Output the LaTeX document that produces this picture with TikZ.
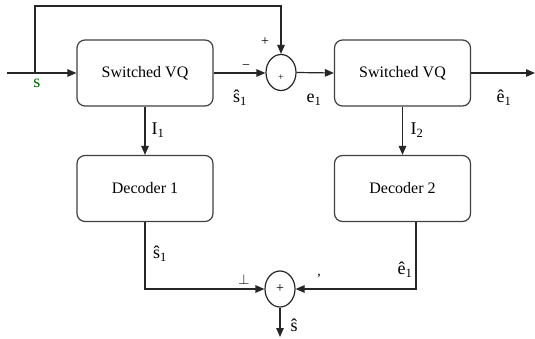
\documentclass[tikz,border=0pt]{standalone}
\usepackage{fontspec}
\setmainfont{Liberation Serif}
\usetikzlibrary{arrows.meta,shapes.geometric}
\begin{document}
\begin{tikzpicture}[x=1pt,y=-1pt,
  line/.style={draw=black!85, line width=1.2pt},
  arr/.style={line, -{Triangle[length=9pt,width=7.5pt]}},
  blk/.style={draw=black!75, line width=1.2pt, rounded corners=8pt, minimum width=136pt, minimum height=66pt, inner sep=0pt, font=\fontsize{16}{19}\selectfont},
  sum/.style={draw=black!85, line width=1.2pt, ellipse, minimum width=30pt, minimum height=36pt, inner sep=0pt},
  lbl/.style={font=\fontsize{18}{20}\selectfont, inner sep=0pt},
  sm/.style={font=\fontsize{14}{15}\selectfont, inner sep=0pt}]
\useasboundingbox (0,0) rectangle (535,339);
\node[blk] (vq1) at (145,73) {Switched VQ};
\node[blk] (vq2) at (402.5,73) {Switched VQ};
\node[blk] (d1) at (145,188.5) {Decoder 1};
\node[blk] (d2) at (402.5,188.5) {Decoder 2};
\node[sum] (c1) at (281,72.5) {};
\node[sm, font=\fontsize{10}{11}\selectfont] (p1) at (281,78) {+};
\node[sum, font=\fontsize{14}{15}\selectfont] (c2) at (280,289) {+};
\coordinate (in) at (7,73);
\coordinate (br) at (35,73);
\coordinate (top) at (281,6);
\coordinate (out) at (535,73);
\coordinate (sout) at (280,337);
\coordinate (d2o) at (416,222);
\draw[arr] (in) -- (vq1.west);
\draw[arr] (br) |- (top) -- (c1.north);
\draw[arr] (vq1.east) -- (vq1.east -| c1.west);
\draw[arr] (c1.east) -- (vq2.west);
\draw[arr] (vq2.east) -- (out);
\draw[arr] (vq1.south) -- (d1.north);
\draw[arr] (vq2.south) -- (d2.north);
\draw[arr] (d1.south) |- (c2.west);
\draw[arr] (d2o) |- (c2.east);
\draw[arr] (c2.south) -- (sout);
% labels
\node[lbl, text=green!40!black] (ls) at (37,83) {s};
\node[sm] (lm) at (246,67) {−};
\node[sm] (lp) at (265,42) {+};
\node[lbl] (ls1) at (240,98) {ŝ\textsubscript{1}};
\node[lbl] (le1) at (314,100) {e\textsubscript{1}};
\node[lbl] (le1h) at (504,98) {ê\textsubscript{1}};
\node[lbl] (li1) at (158,130) {I\textsubscript{1}};
\node[lbl] (li2) at (417,130) {I\textsubscript{2}};
\node[lbl] (ls1b) at (160,254) {ŝ\textsubscript{1}};
\node[lbl] (le1b) at (405,270) {ê\textsubscript{1}};
\node[sm] (lperp) at (244,279) {$\perp$};
\node[sm] (ltick) at (319,279) {'};
\node[lbl] (lsh) at (294,325) {ŝ};
\end{tikzpicture}
\end{document}
